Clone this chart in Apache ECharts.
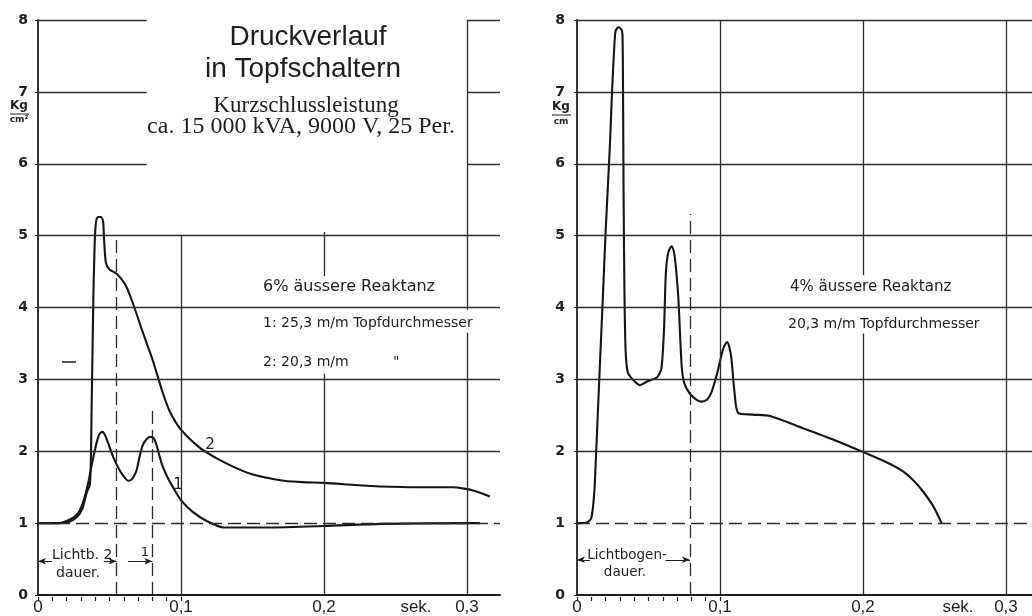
<!DOCTYPE html>
<html>
<head>
<meta charset="utf-8">
<script src="https://cdn.jsdelivr.net/npm/echarts@6/dist/echarts.min.js"></script>
<style>
  html, body { margin: 0; padding: 0; background: #fff; }
  #main { width: 1032px; height: 616px; }
</style>
</head>
<body>
<div id="main"></div>
<script>
// left panel, curve 2 (20,3 mm pot)
var timeL2 = [0, 0.015, 0.022, 0.027, 0.031, 0.034, 0.0364, 0.0376, 0.0387, 0.0395, 0.0402, 0.041, 0.042, 0.044, 0.0455, 0.0462, 0.0475, 0.050, 0.055, 0.061, 0.066, 0.073, 0.080, 0.087, 0.092, 0.100, 0.113, 0.125, 0.136, 0.148, 0.160, 0.172, 0.185, 0.200, 0.230, 0.260, 0.290, 0.298, 0.305, 0.316];
var pressL2 = [1, 1.0, 1.02, 1.08, 1.2, 1.42, 1.55, 2.74, 4.12, 4.8, 5.12, 5.23, 5.26, 5.26, 5.2, 4.95, 4.62, 4.53, 4.47, 4.32, 4.08, 3.67, 3.28, 2.83, 2.56, 2.3, 2.05, 1.9, 1.79, 1.69, 1.63, 1.59, 1.57, 1.56, 1.52, 1.5, 1.5, 1.48, 1.45, 1.37];
// left panel, curve 1 (25,3 mm pot)
var timeL1 = [0, 0.015, 0.020, 0.025, 0.029, 0.032, 0.035, 0.038, 0.041, 0.043, 0.045, 0.047, 0.050, 0.053, 0.057, 0.060, 0.063, 0.065, 0.067, 0.069, 0.071, 0.073, 0.076, 0.079, 0.081, 0.083, 0.085, 0.087, 0.091, 0.095, 0.100, 0.108, 0.118, 0.130, 0.160, 0.200, 0.240, 0.309];
var pressL1 = [1, 1.0, 1.03, 1.08, 1.17, 1.32, 1.55, 1.85, 2.12, 2.24, 2.27, 2.22, 2.06, 1.9, 1.74, 1.65, 1.59, 1.6, 1.65, 1.74, 1.92, 2.07, 2.17, 2.2, 2.18, 2.08, 1.93, 1.8, 1.62, 1.48, 1.32, 1.16, 1.03, 0.94, 0.94, 0.96, 0.99, 1.0];
// right panel
var timeR = [0, 0.007, 0.010, 0.012, 0.013, 0.016, 0.018, 0.020, 0.023, 0.0245, 0.026, 0.027, 0.029, 0.031, 0.0318, 0.0322, 0.0326, 0.0332, 0.034, 0.0355, 0.039, 0.044, 0.049, 0.056, 0.059, 0.0608, 0.0622, 0.064, 0.0662, 0.068, 0.0692, 0.0709, 0.0732, 0.075, 0.079, 0.084, 0.087, 0.091, 0.094, 0.0977, 0.1023, 0.105, 0.1065, 0.108, 0.110, 0.1128, 0.123, 0.135, 0.158, 0.182, 0.200, 0.215, 0.228, 0.236, 0.242, 0.249, 0.255];
var pressR = [1, 1.01, 1.07, 1.4, 1.8, 3.2, 4.1, 5.05, 6.25, 7.0, 7.6, 7.85, 7.9, 7.87, 7.8, 7.0, 5.5, 4.2, 3.4, 3.1, 3.0, 2.92, 2.97, 3.03, 3.15, 3.67, 4.5, 4.78, 4.85, 4.75, 4.55, 4.12, 3.19, 2.95, 2.8, 2.71, 2.69, 2.72, 2.82, 3.06, 3.43, 3.52, 3.45, 3.29, 2.85, 2.53, 2.51, 2.49, 2.32, 2.14, 1.99, 1.86, 1.72, 1.58, 1.44, 1.24, 1.0];

var xLabels = ['0', '0,1', '0,2', '0,3'];
var yMax = 8;
var maxL = 0.3231, maxR = 0.3182;

function zip(xs, ys) {
  return xs.map(function (x, i) { return [x, ys[i]]; });
}

var ink = '#1e1e1e';
var solid = { color: '#2b2b2b', width: 1.3, type: 'solid' };
var dashed = { color: '#2b2b2b', width: 1.3, type: [13, 6] };

function seg(x1, y1, x2, y2, style) {
  return [{ coord: [x1, y1], lineStyle: style }, { coord: [x2, y2] }];
}
function arrow(x1, y1, x2, y2) {
  return [{ coord: [x1, y1], symbol: 'none', lineStyle: { color: ink, width: 1, type: 'solid' } },
          { coord: [x2, y2], symbol: 'arrow', symbolSize: [5, 8] }];
}

var gridL = [
  seg(0, 8, 0.076, 8, solid), seg(0.3, 8, maxL, 8, solid),
  seg(0, 7, 0.076, 7, solid), seg(0.3, 7, maxL, 7, solid),
  seg(0, 6, 0.076, 6, solid), seg(0.3, 6, maxL, 6, solid),
  seg(0, 5, maxL, 5, solid), seg(0, 4, maxL, 4, solid),
  seg(0, 3, maxL, 3, solid), seg(0, 2, maxL, 2, solid),
  seg(0.1, 0, 0.1, 5, solid),
  seg(0.2, 0, 0.2, 3.08, solid), seg(0.2, 4.44, 0.2, 5.05, solid),
  seg(0.3, 0, 0.3, 3.65, solid), seg(0.3, 3.97, 0.3, 8, solid),
  seg(0, 1, maxL, 1, dashed),
  seg(0.055, 0, 0.055, 5, dashed),
  seg(0.080, 0, 0.080, 2.6, dashed),
  arrow(0.0098, 0.47, 0, 0.47),
  arrow(0.046, 0.47, 0.055, 0.47),
  arrow(0.063, 0.47, 0.080, 0.47)
];

var gridR = [
  seg(0, 8, maxR, 8, solid), seg(0, 7, maxR, 7, solid),
  seg(0, 6, maxR, 6, solid), seg(0, 5, maxR, 5, solid),
  seg(0, 4, maxR, 4, solid), seg(0, 3, maxR, 3, solid),
  seg(0, 2, maxR, 2, solid),
  seg(0.1, 0, 0.1, 8, solid),
  seg(0.2, 0, 0.2, 3.64, solid), seg(0.2, 4.45, 0.2, 8, solid),
  seg(0.3, 0, 0.3, 8, solid),
  seg(0, 1, maxR, 1, dashed),
  seg(0.079, 0, 0.079, 5.3, dashed),
  arrow(0.009, 0.49, 0, 0.49),
  arrow(0.062, 0.49, 0.079, 0.49)
];

function xAxisMain(grid, max) {
  return {
    type: 'value', gridIndex: grid, min: 0, max: max, interval: 0.1,
    axisLine: { show: true, lineStyle: { color: ink, width: 1.8 } },
    axisTick: { show: false },
    splitLine: { show: false },
    axisLabel: {
      margin: 4, color: ink, fontSize: 17, fontFamily: 'Liberation Sans',
      showMaxLabel: false,
      formatter: function (v) {
        var k = Math.round(v * 100);
        return k % 10 === 0 ? xLabels[k / 10] : '';
      }
    }
  };
}
function xAxisTicks(grid) {
  return {
    type: 'value', gridIndex: grid, min: 0, max: 0.1, interval: 0.01,
    axisLine: { show: false },
    axisTick: { show: true, length: 4, lineStyle: { color: ink, width: 1.2 } },
    axisLabel: { show: false }, splitLine: { show: false }
  };
}
function yAxisMain(grid, margin) {
  return {
    type: 'value', gridIndex: grid, min: 0, max: yMax, interval: 1,
    axisLine: { show: true, lineStyle: { color: ink, width: 1.8 } },
    axisTick: { show: true, length: 3, lineStyle: { color: ink } },
    splitLine: { show: false },
    axisLabel: {
      margin: margin, color: ink, fontSize: 14, fontWeight: 'bold',
      fontFamily: 'DejaVu Sans', padding: [0, 0, 9, 0]
    }
  };
}
function yAxisHidden(grid) {
  return { type: 'value', gridIndex: grid, min: 0, max: yMax, show: false };
}

function curve(name, data, xi, marks) {
  var s = {
    name: name, type: 'line', xAxisIndex: xi, yAxisIndex: xi,
    data: data, smooth: 0.25, showSymbol: false, symbol: 'none',
    lineStyle: { color: '#151515', width: 2.1 }, silent: true
  };
  if (marks) {
    s.markLine = { silent: true, symbol: 'none', label: { show: false }, animation: false, data: marks };
  }
  return s;
}

var txt = { fontFamily: 'DejaVu Sans', fontSize: 14, fill: ink };
function label(x, y, text, extra) {
  var style = Object.assign({ x: x, y: y, text: text, textVerticalAlign: 'middle' }, txt, extra || {});
  return { type: 'text', style: style, silent: true };
}

var chart = echarts.init(document.getElementById('main'));
chart.setOption({
  backgroundColor: '#fff',
  animation: false,
  grid: [
    { left: 38, top: 20, width: 462, height: 577 },
    { left: 577, top: 20, width: 455, height: 577 },
    { left: 38, top: 20, width: 143, height: 577 },
    { left: 577, top: 20, width: 143, height: 577 }
  ],
  xAxis: [xAxisMain(0, maxL), xAxisMain(1, maxR), xAxisTicks(2), xAxisTicks(3)],
  yAxis: [yAxisMain(0, 10), yAxisMain(1, 12), yAxisHidden(2), yAxisHidden(3)],
  series: [
    curve('2', zip(timeL2, pressL2), 0, gridL),
    curve('1', zip(timeL1, pressL1), 0),
    curve('R', zip(timeR, pressR), 1, gridR)
  ],
  graphic: [
    label(308, 37, 'Druckverlauf', { fontFamily: 'Liberation Sans', fontSize: 28, textAlign: 'center' }),
    label(303, 69, 'in Topfschaltern', { fontFamily: 'Liberation Sans', fontSize: 28, textAlign: 'center' }),
    label(306, 106, 'Kurzschlussleistung', { fontFamily: 'Liberation Serif', fontSize: 23, textAlign: 'center' }),
    label(301, 127, 'ca. 15 000 kVA, 9000 V, 25 Per.', { fontFamily: 'Liberation Serif', fontSize: 24, textAlign: 'center' }),
    label(263, 287, '6% äussere Reaktanz', { fontSize: 16 }),
    label(263, 323, '1: 25,3 m/m Topfdurchmesser'),
    label(263, 362, '2: 20,3 m/m'),
    label(393, 362, '"'),
    { type: 'line', shape: { x1: 62, y1: 362, x2: 76, y2: 362 }, style: { stroke: ink, lineWidth: 1.5 }, silent: true },
    label(210, 445, '2', { textAlign: 'center', fontSize: 15 }),
    label(178, 485, '1', { textAlign: 'center', fontSize: 15 }),
    label(52, 555, 'Lichtb. 2', { fontSize: 14 }),
    label(78, 573, 'dauer.', { fontSize: 14, textAlign: 'center' }),
    label(145, 553, '1', { fontSize: 13, textAlign: 'center' }),
    label(416, 607, 'sek.', { fontFamily: 'Liberation Sans', fontSize: 17, textAlign: 'center' }),
    label(19, 106, 'Kg', { fontSize: 12, fontWeight: 'bold', textAlign: 'center' }),
    { type: 'line', shape: { x1: 10, y1: 114, x2: 29, y2: 114 }, style: { stroke: ink, lineWidth: 1 }, silent: true },
    label(19, 120, 'cm²', { fontSize: 9, fontWeight: 'bold', textAlign: 'center' }),

    label(790, 287, '4% äussere Reaktanz', { fontSize: 15 }),
    label(788, 324, '20,3 m/m Topfdurchmesser'),
    label(627, 555, 'Lichtbogen-', { fontSize: 13.5, textAlign: 'center' }),
    label(625, 572, 'dauer.', { fontSize: 13.5, textAlign: 'center' }),
    label(958, 607, 'sek.', { fontFamily: 'Liberation Sans', fontSize: 17, textAlign: 'center' }),
    label(561, 107, 'Kg', { fontSize: 12, fontWeight: 'bold', textAlign: 'center' }),
    { type: 'line', shape: { x1: 552, y1: 115, x2: 571, y2: 115 }, style: { stroke: ink, lineWidth: 1 }, silent: true },
    label(561, 122, 'cm', { fontSize: 9, fontWeight: 'bold', textAlign: 'center' })
  ]
});
</script>
</body>
</html>
